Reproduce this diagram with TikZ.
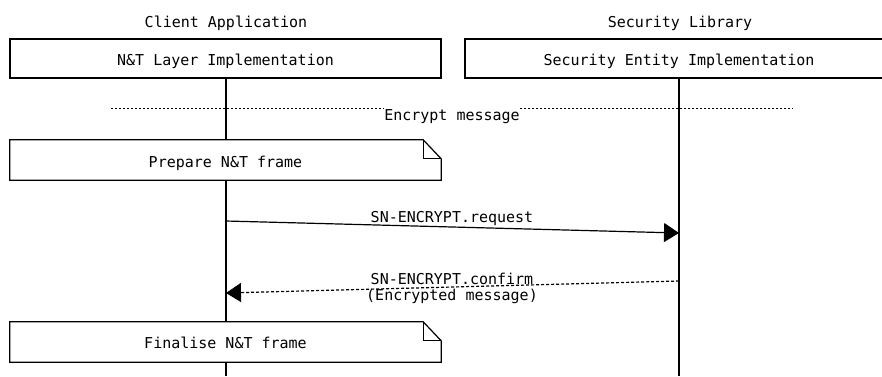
\documentclass[tikz,border=0pt]{standalone}
\usepackage{fontspec}
\setmainfont{DejaVu Sans Mono}
\usetikzlibrary{arrows.meta}
\begin{document}
\begin{tikzpicture}[x=1pt,y=-1pt,
  txt/.style={font=\fontsize{15}{17}\selectfont, inner sep=0pt, anchor=base},
  entbox/.style={draw, line width=1.2pt, minimum height=39pt, inner sep=0pt},
  notebody/.style={inner sep=0pt, minimum width=431pt, minimum height=40pt},
  noteline/.style={draw, fill=white, line width=1.2pt, line join=miter},
  life/.style={line width=1.2pt},
  msgarrow/.style={line width=1.2pt, -{Triangle[length=15pt,width=19pt]}},
  divline/.style={line width=1pt, dash pattern=on 2pt off 2pt}
]
\useasboundingbox (0,0) rectangle (882,376);
\fill[white] (0,0) rectangle (882,376);

% entity titles
\node[txt] (ca) at (226,27) {Client Application};
\node[txt] (sl) at (680,27) {Security Library};

% entity boxes
\node[entbox, minimum width=431pt] (nt) at (225.5,58.5) {};
\node[txt] (nttxt) at (225.5,65) {N\&T Layer Implementation};
\node[entbox, minimum width=428pt] (se) at (679,58.5) {};
\node[txt] (setxt) at (679,65) {Security Entity Implementation};

% lifelines
\coordinate (l1end) at (226,376);
\coordinate (l2end) at (679,376);
\draw[life] (nt.south -| l1end) -- (l1end);
\draw[life] (se.south -| l2end) -- (l2end);

% divider
\coordinate (dl) at (111,108);
\coordinate (dr) at (793,108);
\node[txt] (enc) at (452,120) {Encrypt message};
\draw[divline] (dl) -- (enc.west |- dl);
\draw[divline] (enc.east |- dr) -- (dr);

% note 1
\node[notebody] (p) at (225.5,160) {};
\draw[noteline] (p.north west) -- ([xshift=-18pt]p.north east) -- ([yshift=-19pt]p.north east) -- (p.south east) -- (p.south west) -- cycle;
\draw[line width=1.2pt] ([xshift=-18pt]p.north east) -- ([xshift=-18pt,yshift=-19pt]p.north east) -- ([yshift=-19pt]p.north east);
\node[txt] (ptxt) at (225.5,167) {Prepare N\&T frame};

% request message
\coordinate (rq1) at (226,221);
\coordinate (rq2) at (679,233);
\draw[msgarrow] (rq1) -- (rq2);
\node[txt] (rqlbl) at (452,222) {SN-ENCRYPT.request};

% confirm message
\coordinate (cf1) at (679,281);
\coordinate (cf2) at (226,293);
\draw[msgarrow, dash pattern=on 3pt off 2pt] (cf1) -- (cf2);
\node[txt] (cflbl) at (452,284) {SN-ENCRYPT.confirm};
\node[txt] (cflbl2) at (452,300) {(Encrypted message)};

% note 2
\node[notebody] (f) at (225.5,342) {};
\draw[noteline] (f.north west) -- ([xshift=-18pt]f.north east) -- ([yshift=-19pt]f.north east) -- (f.south east) -- (f.south west) -- cycle;
\draw[line width=1.2pt] ([xshift=-18pt]f.north east) -- ([xshift=-18pt,yshift=-19pt]f.north east) -- ([yshift=-19pt]f.north east);
\node[txt] (ftxt) at (225.5,348) {Finalise N\&T frame};
\end{tikzpicture}
\end{document}
